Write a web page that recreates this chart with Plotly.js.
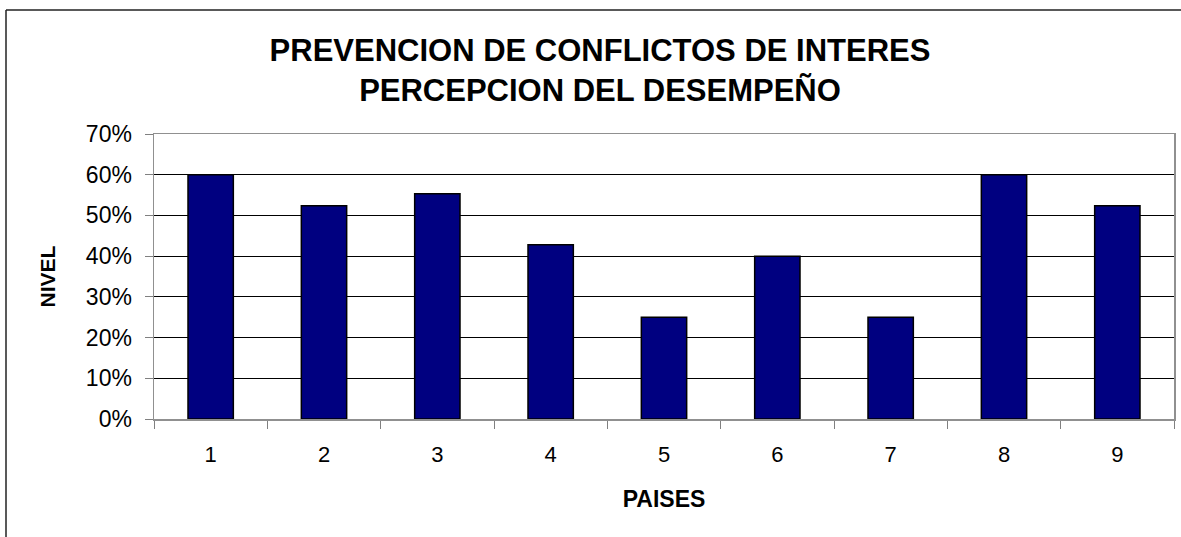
<!DOCTYPE html>
<html>
<head>
<meta charset="utf-8">
<script src="https://cdn.plot.ly/plotly-3.0.1.min.js"></script>
<style>
html,body{margin:0;padding:0;background:#fff;}
#chart{width:1181px;height:537px;}
</style>
</head>
<body>
<div id="chart"></div>
<script>
var paises = ["1","2","3","4","5","6","7","8","9"];
var nivel = [0.60, 0.524, 0.553, 0.428, 0.25, 0.40, 0.25, 0.60, 0.524];
var yTicks = [0, 0.1, 0.2, 0.3, 0.4, 0.5, 0.6, 0.7];
var yTickLabels = ["0%","10%","20%","30%","40%","50%","60%","70%"];

var FONT = "Liberation Sans, Arial, sans-serif";

var trace = {
  type: "bar",
  x: paises,
  y: nivel,
  marker: {color: "#000080", line: {color: "#000000", width: 1.5}},
  hoverinfo: "x+y"
};

var layout = {
  width: 1181, height: 537,
  margin: {l: 154, r: 7, t: 134, b: 118},
  paper_bgcolor: "#ffffff",
  plot_bgcolor: "#ffffff",
  showlegend: false,
  bargap: 0.6,
  font: {family: FONT, color: "#000000", size: 22},
  title: {
    text: "<b>PREVENCION DE CONFLICTOS DE INTERES<br>PERCEPCION DEL DESEMPEÑO</b>",
    font: {family: FONT, size: 31, color: "#000000"},
    x: 600/1181, xanchor: "center",
    y: 1 - 61/537, yanchor: "top"
  },
  xaxis: {
    type: "category",
    tickson: "boundaries",
    ticks: "outside", ticklen: 8, tickcolor: "#808080", tickwidth: 1,
    ticklabelstandoff: 15,
    showline: true, linecolor: "#909090", linewidth: 1.5, mirror: true,
    showgrid: false, zeroline: false,
    tickfont: {family: FONT, size: 22, color: "#000000"},
    title: {text: "<b>PAISES</b>", font: {family: FONT, size: 23, color: "#000000"}, standoff: 25}
  },
  yaxis: {
    range: [0, 0.7],
    tickvals: yTicks, ticktext: yTickLabels,
    ticks: "outside", ticklen: 8, tickcolor: "#808080", tickwidth: 1,
    ticklabelstandoff: 8,
    showline: true, linecolor: "#909090", linewidth: 1.5, mirror: true,
    showgrid: true, gridcolor: "#000000", gridwidth: 1,
    zeroline: false,
    tickfont: {family: FONT, size: 23, color: "#000000"},
    title: {text: "<b>NIVEL</b>", font: {family: FONT, size: 21, color: "#000000"}, standoff: 24}
  },
  shapes: [
    {type: "line", xref: "paper", yref: "paper",
     x0: (6-154)/1020, x1: (1181-154)/1020, y0: (419-10)/285, y1: (419-10)/285,
     line: {color: "#222222", width: 1.5}},
    {type: "line", xref: "paper", yref: "paper",
     x0: (6-154)/1020, x1: (6-154)/1020, y0: (419-10)/285, y1: (419-540)/285,
     line: {color: "#222222", width: 1.5}}
  ]
};

Plotly.newPlot("chart", [trace], layout, {displayModeBar: false, staticPlot: true});
</script>
</body>
</html>
